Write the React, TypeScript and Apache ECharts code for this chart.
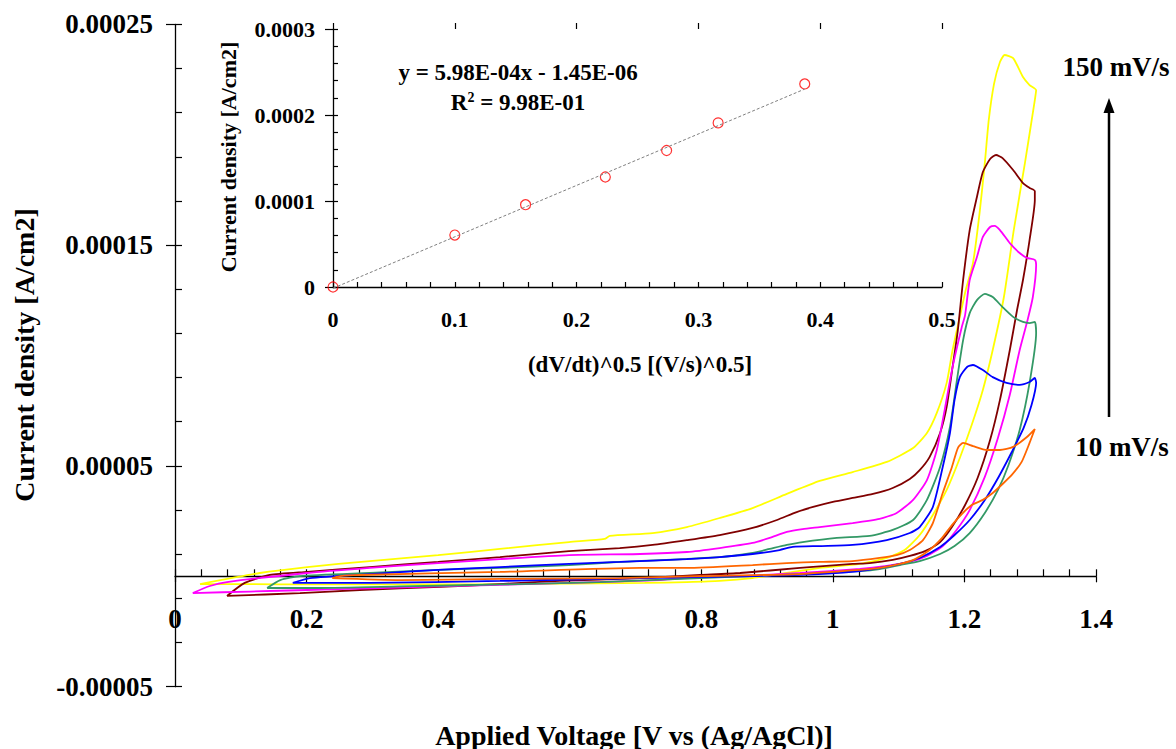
import React, { useEffect, useRef } from "react";
import * as echarts from "echarts";

const serif = "'Times New Roman', 'Liberation Serif', 'DejaVu Serif', serif";
const black = "#000000";

// Cyclic voltammograms: potential (V vs Ag/AgCl) and current density (µA/cm²),
// forward sweep to the 1.31 V vertex followed by the return sweep.
const potential150 = [
  0.038, 0.129, 0.201, 0.296, 0.4, 0.494, 0.599, 0.653, 0.661, 0.726, 0.778, 0.828, 0.878, 0.93, 0.98,
  1.03, 1.082, 1.122, 1.143, 1.158, 1.173, 1.182, 1.193, 1.202, 1.213, 1.223, 1.231, 1.237, 1.245, 1.254,
  1.261, 1.274, 1.289, 1.299, 1.309,
  1.307, 1.292, 1.275, 1.26, 1.243, 1.228, 1.211, 1.193, 1.173, 1.152, 1.132, 1.109, 1.082, 1.041, 0.98,
  0.93, 0.878, 0.828, 0.778, 0.714, 0.494, 0.266, 0.038,
];
const current150 = [
  -3.5, 1.5, 4.2, 6.9, 9.6, 12.4, 15.5, 16.9, 18.3, 19.6, 22.3, 26.4, 30.9, 37.3, 43.2,
  47.2, 51.8, 58.1, 64.9, 74.0, 87.6, 102.5, 117.5, 129.7, 141.9, 164.5, 187.2, 206.7, 223.0, 232.9,
  236.1, 234.7, 226.1, 222.5, 220.2,
  215.7, 187.2, 156.8, 126.5, 102.5, 84.4, 68.5, 53.6, 39.1, 27.8, 18.7, 11.9, 8.3, 5.6, 3.8,
  1.5, -0.8, -2.1, -2.6, -3.0, -3.5, -3.7, -3.5,
];

const potential100 = [
  0.079, 0.106, 0.144, 0.201, 0.296, 0.4, 0.494, 0.599, 0.676, 0.726, 0.778, 0.828, 0.878, 0.915, 0.945,
  0.97, 1.0, 1.03, 1.061, 1.091, 1.117, 1.132, 1.147, 1.163, 1.173, 1.182, 1.19, 1.198, 1.208, 1.219,
  1.228, 1.239, 1.248, 1.258, 1.274, 1.289, 1.299, 1.307,
  1.307, 1.299, 1.289, 1.28, 1.269, 1.254, 1.239, 1.22, 1.201, 1.181, 1.163, 1.14, 1.117, 1.091, 1.056,
  1.03, 0.95, 0.859, 0.798, 0.707, 0.585, 0.494, 0.403, 0.281, 0.19, 0.079,
];
const current100 = [
  -8.9, -3.0, 0.6, 2.0, 4.2, 6.5, 8.7, 11.4, 12.8, 14.2, 16.4, 18.7, 21.9, 25.5, 29.1,
  31.4, 33.7, 35.5, 37.3, 40.0, 44.1, 48.1, 54.0, 64.9, 76.7, 94.8, 111.5, 134.2, 156.8, 171.8,
  183.1, 189.0, 190.8, 189.4, 184.0, 178.1, 175.9, 174.5,
  170.4, 152.3, 134.2, 120.6, 102.5, 79.9, 61.7, 44.5, 32.3, 22.3, 15.5, 11.4, 9.2, 7.4, 6.0,
  5.6, 3.8, 1.5, 0.6, -0.8, -2.1, -3.5, -4.8, -6.2, -7.6, -8.9,
];

const potential75 = [
  0.027, 0.053, 0.079, 0.201, 0.296, 0.4, 0.494, 0.599, 0.707, 0.778, 0.828, 0.878, 0.904, 0.93, 0.954,
  0.98, 1.03, 1.071, 1.097, 1.122, 1.143, 1.158, 1.17, 1.182, 1.196, 1.201, 1.208, 1.219, 1.228, 1.239,
  1.246, 1.254, 1.269, 1.284, 1.295, 1.307,
  1.309, 1.304, 1.296, 1.284, 1.269, 1.251, 1.231, 1.208, 1.188, 1.167, 1.143, 1.117, 1.082, 1.041, 0.95,
  0.859, 0.798, 0.737, 0.599, 0.494, 0.4, 0.296, 0.201, 0.114, 0.027,
];
const current75 = [
  -7.6, -4.4, -2.6, 1.5, 3.8, 6.0, 7.8, 9.6, 10.1, 11.0, 12.8, 15.1, 17.4, 20.1, 21.4,
  22.3, 24.1, 26.0, 28.7, 34.6, 43.6, 57.2, 75.4, 94.8, 112.9, 118.3, 134.2, 144.6, 153.7, 158.2,
  158.7, 156.8, 150.9, 146.4, 144.2, 143.3,
  141.0, 126.5, 116.1, 102.5, 82.2, 62.7, 45.0, 30.0, 21.0, 13.7, 9.2, 6.5, 4.7, 3.3, 1.5,
  0.1, -0.3, -1.7, -3.0, -3.9, -4.6, -5.5, -6.2, -6.9, -7.6,
];

const potential50 = [
  0.14, 0.16, 0.19, 0.296, 0.4, 0.494, 0.599, 0.676, 0.828, 0.878, 0.904, 0.93, 0.954, 1.006, 1.056,
  1.091, 1.122, 1.143, 1.163, 1.178, 1.188, 1.198, 1.208, 1.219, 1.231, 1.243, 1.258, 1.274, 1.289, 1.299,
  1.307,
  1.309, 1.299, 1.284, 1.267, 1.251, 1.231, 1.208, 1.185, 1.163, 1.132, 1.102, 1.071, 1.041, 0.95, 0.798,
  0.646, 0.494, 0.342, 0.22, 0.14,
];
const current50 = [
  -5.3, -1.7, 0.1, 1.5, 2.9, 3.8, 5.1, 6.5, 8.7, 10.6, 12.4, 14.2, 15.5, 17.4, 18.3,
  21.0, 25.5, 34.6, 49.5, 67.6, 87.6, 107.0, 119.2, 125.1, 127.9, 126.5, 121.9, 117.5, 115.2, 114.7,
  115.2,
  110.2, 87.6, 66.3, 50.4, 39.1, 28.7, 19.6, 13.7, 10.1, 6.9, 5.1, 3.3, 2.4, 1.0, -0.8,
  -2.6, -3.7, -4.6, -5.3, -5.3,
];

const potential25 = [
  0.179, 0.205, 0.296, 0.4, 0.494, 0.599, 0.676, 0.778, 0.828, 0.878, 0.919, 0.939, 0.98, 1.03, 1.082,
  1.117, 1.132, 1.152, 1.167, 1.178, 1.185, 1.193, 1.204, 1.213, 1.228, 1.243, 1.264, 1.284, 1.299, 1.307,
  1.309, 1.302, 1.29, 1.272, 1.252, 1.231, 1.208, 1.185, 1.163, 1.132, 1.102, 1.071, 1.041, 0.95, 0.798,
  0.707, 0.494, 0.296, 0.179,
];
const current25 = [
  -3.0, -0.8, 1.0, 2.9, 4.2, 5.6, 6.5, 7.8, 8.7, 10.1, 11.9, 13.3, 13.7, 14.2, 16.4,
  19.6, 22.3, 31.4, 49.5, 64.9, 79.9, 90.2, 94.8, 95.7, 93.4, 90.2, 87.6, 86.7, 88.0, 89.8,
  87.6, 77.6, 67.2, 56.3, 45.0, 34.6, 25.5, 18.7, 13.3, 8.3, 5.6, 3.8, 2.4, 0.6, -0.3,
  -0.8, -2.1, -3.0, -3.0,
];

const potential10 = [
  0.239, 0.251, 0.281, 0.494, 0.707, 0.778, 0.878, 0.93, 0.98, 1.03, 1.071, 1.097, 1.117, 1.137, 1.152,
  1.167, 1.181, 1.19, 1.198, 1.213, 1.234, 1.254, 1.274, 1.295, 1.307,
  1.299, 1.287, 1.272, 1.258, 1.243, 1.228, 1.211, 1.196, 1.181, 1.166, 1.147, 1.125, 1.102, 1.071, 1.041,
  0.95, 0.798, 0.676, 0.494, 0.342, 0.239,
];
const current10 = [
  -0.8, 0.1, 0.6, 2.0, 3.8, 3.8, 5.1, 6.0, 6.5, 6.9, 8.3, 9.6, 11.9, 16.4, 24.1,
  37.7, 49.5, 58.1, 60.4, 59.0, 57.2, 57.2, 58.6, 63.1, 66.7,
  60.4, 51.8, 45.9, 41.8, 37.7, 34.6, 32.3, 28.2, 23.2, 17.4, 11.9, 7.8, 5.6, 3.8, 2.9,
  1.0, 0.1, -0.8, -1.2, -1.7, -0.8,
];

const MICRO = 1e-6; // µA/cm² -> A/cm²

// Inset: square root of the scan rate vs anodic peak current density
const sqrtScanRate = [0, 0.1, 0.1581, 0.2236, 0.2739, 0.3162, 0.3873];
const peakDensity = [0, 6.04e-5, 9.57e-5, 1.279e-4, 1.587e-4, 1.908e-4, 2.361e-4];
const fitSlope = 5.98e-4;
const fitIntercept = -1.45e-6;
const fitR2 = 0.998;

// Main axis ranges
const voltMin = 0;
const voltMax = 1.4;
const densMin = -0.00005;
const densMax = 0.00025;

const loops = [
  { name: "150 mV/s", v: potential150, j: current150, color: "#FFFF00" },
  { name: "100 mV/s", v: potential100, j: current100, color: "#800000" },
  { name: "75 mV/s", v: potential75, j: current75, color: "#FF00FF" },
  { name: "50 mV/s", v: potential50, j: current50, color: "#339966" },
  { name: "25 mV/s", v: potential25, j: current25, color: "#0000FF" },
  { name: "10 mV/s", v: potential10, j: current10, color: "#FF6600" },
];

function sci(n: number): string {
  const [m, e] = n.toExponential(2).split("e");
  const sign = e[0] === "-" ? "-" : "+";
  const digits = e.replace(/^[+-]/, "").padStart(2, "0");
  return `${m}E${sign}${digits}`;
}

const boldText = (size: number) => ({
  fontSize: size,
  fontWeight: "bold" as const,
  fontFamily: serif,
  fill: black,
  align: "center" as const,
  verticalAlign: "middle" as const,
});

function buildOption() {
  const mainGrid = { left: 175, top: 24.3, width: 921, height: 662.4 };
  // lift the voltage axis from the grid bottom up to zero current
  const zeroLift = -mainGrid.height * (0 - densMin) / (densMax - densMin);

  const tickLine = { color: black, width: 1.2 };
  const axisLineStyle = { color: black, width: 1.3 };
  const labelFont = (size: number) => ({
    color: black,
    fontSize: size,
    fontWeight: "bold" as const,
    fontFamily: serif,
  });
  const oneDecimal = (v: number) => String(+v.toFixed(1));

  return {
    animation: false,
    backgroundColor: "#ffffff",
    grid: [
      { ...mainGrid, outerBoundsMode: "none" },
      { left: 333, top: 29, width: 609, height: 258, outerBoundsMode: "none" },
    ],
    xAxis: [
      {
        gridIndex: 0,
        type: "value",
        position: "bottom",
        offset: zeroLift,
        min: voltMin,
        max: voltMax,
        interval: 0.2,
        axisLine: { show: true, onZero: false, lineStyle: axisLineStyle },
        axisTick: { show: true, inside: true, length: 7, lineStyle: tickLine },
        minorTick: { show: true, splitNumber: 5, length: 7, lineStyle: tickLine },
        splitLine: { show: false },
        axisLabel: { margin: 29, ...labelFont(27), formatter: oneDecimal },
      },
      {
        gridIndex: 0,
        type: "value",
        position: "bottom",
        offset: zeroLift,
        min: voltMin,
        max: voltMax,
        interval: 0.2,
        axisLine: { show: false, onZero: false },
        axisTick: { show: true, inside: false, length: 6, lineStyle: tickLine },
        splitLine: { show: false },
        axisLabel: { show: false },
      },
      {
        gridIndex: 1,
        type: "value",
        min: 0,
        max: 0.5,
        interval: 0.1,
        axisLine: { show: true, onZero: false, lineStyle: axisLineStyle },
        axisTick: { show: true, inside: true, length: 5, lineStyle: tickLine },
        minorTick: { show: true, splitNumber: 5, length: 5, lineStyle: tickLine },
        splitLine: { show: false },
        axisLabel: { margin: 21, ...labelFont(22), formatter: oneDecimal },
      },
      {
        gridIndex: 1,
        type: "value",
        min: 0,
        max: 0.5,
        interval: 0.1,
        axisLine: { show: false, onZero: false },
        axisTick: { show: true, inside: false, length: 6, lineStyle: tickLine },
        splitLine: { show: false },
        axisLabel: { show: false },
      },
    ],
    yAxis: [
      {
        gridIndex: 0,
        type: "value",
        position: "left",
        min: densMin,
        max: densMax,
        interval: 0.0001,
        axisLine: { show: true, onZero: false, lineStyle: axisLineStyle },
        axisTick: { show: true, inside: true, length: 7, lineStyle: tickLine },
        minorTick: { show: true, splitNumber: 5, length: 7, lineStyle: tickLine },
        splitLine: { show: false },
        axisLabel: { margin: 22, ...labelFont(27), formatter: (v: number) => v.toFixed(5) },
      },
      {
        gridIndex: 0,
        type: "value",
        position: "left",
        min: densMin,
        max: densMax,
        interval: 0.0001,
        axisLine: { show: false, onZero: false },
        axisTick: { show: true, inside: false, length: 9, lineStyle: tickLine },
        splitLine: { show: false },
        axisLabel: { show: false },
      },
      {
        gridIndex: 1,
        type: "value",
        position: "left",
        min: 0,
        max: 0.0003,
        interval: 0.0001,
        axisLine: { show: true, onZero: false, lineStyle: axisLineStyle },
        axisTick: { show: true, inside: true, length: 5, lineStyle: tickLine },
        minorTick: { show: true, splitNumber: 5, length: 5, lineStyle: tickLine },
        splitLine: { show: false },
        axisLabel: {
          margin: 18,
          ...labelFont(22),
          formatter: (v: number) => (v === 0 ? "0" : v.toFixed(4)),
        },
      },
      {
        gridIndex: 1,
        type: "value",
        position: "left",
        min: 0,
        max: 0.0003,
        interval: 0.0001,
        axisLine: { show: false, onZero: false },
        axisTick: { show: true, inside: false, length: 8, lineStyle: tickLine },
        splitLine: { show: false },
        axisLabel: { show: false },
      },
    ],
    series: [
      ...loops.map((loop) => ({
        name: loop.name,
        type: "line",
        xAxisIndex: 0,
        yAxisIndex: 0,
        data: loop.v.map((v, i) => [v, loop.j[i] * MICRO]),
        symbol: "none",
        showSymbol: false,
        smooth: 0.2,
        silent: true,
        lineStyle: { color: loop.color, width: 1.8 },
      })),
      {
        name: "fit",
        type: "line",
        xAxisIndex: 2,
        yAxisIndex: 2,
        data: [
          [0, fitIntercept],
          [sqrtScanRate[sqrtScanRate.length - 1], fitSlope * sqrtScanRate[sqrtScanRate.length - 1] + fitIntercept],
        ],
        symbol: "none",
        silent: true,
        clip: false,
        lineStyle: { color: "#808080", width: 1, type: [3, 2] },
      },
      {
        name: "peak",
        type: "scatter",
        xAxisIndex: 2,
        yAxisIndex: 2,
        data: sqrtScanRate.map((x, i) => [x, peakDensity[i]]),
        symbol: "circle",
        symbolSize: 10,
        clip: false,
        silent: true,
        itemStyle: { color: "rgba(255,255,255,0)", borderColor: "#FF0000", borderWidth: 1.2 },
      },
    ],
    graphic: [
      {
        type: "text",
        x: 24,
        y: 355,
        rotation: Math.PI / 2,
        style: { text: "Current density [A/cm2]", ...boldText(28) },
      },
      {
        type: "text",
        x: 634,
        y: 735,
        style: { text: "Applied Voltage [V vs (Ag/AgCl)]", ...boldText(28) },
      },
      {
        type: "text",
        x: 228,
        y: 157,
        rotation: Math.PI / 2,
        style: { text: "Current density [A/cm2]", ...boldText(22) },
      },
      {
        type: "text",
        x: 640,
        y: 364,
        style: { text: "(dV/dt)^0.5 [(V/s)^0.5]", ...boldText(23) },
      },
      {
        type: "text",
        x: 518,
        y: 72,
        style: { text: `y = ${sci(fitSlope)}x - ${sci(-fitIntercept)}`, ...boldText(23) },
      },
      {
        type: "text",
        x: 518,
        y: 102,
        style: {
          text: `{a|R}{b|2}{a| = ${sci(fitR2)}}`,
          ...boldText(23),
          rich: {
            a: { fontSize: 23, fontWeight: "bold", fontFamily: serif, fill: black },
            b: { fontSize: 14, fontWeight: "bold", fontFamily: serif, fill: black, verticalAlign: "top" },
          },
        },
      },
      { type: "text", x: 1116, y: 67, style: { text: "150 mV/s", ...boldText(27) } },
      { type: "text", x: 1122, y: 447, style: { text: "10 mV/s", ...boldText(27) } },
      {
        type: "line",
        shape: { x1: 1109, y1: 417, x2: 1109, y2: 108 },
        style: { stroke: black, lineWidth: 2.5 },
      },
      {
        type: "polygon",
        shape: { points: [[1109, 98], [1103.5, 113], [1114.5, 113]] },
        style: { fill: black },
      },
    ],
  };
}

export default function App() {
  const ref = useRef<HTMLDivElement>(null);
  useEffect(() => {
    if (!ref.current) return;
    const chart = echarts.init(ref.current, undefined, { renderer: "svg" });
    chart.setOption(buildOption() as any);
    return () => chart.dispose();
  }, []);
  return (
    <div
      ref={ref}
      style={{ position: "fixed", left: 0, top: 0, width: 1176, height: 749, background: "#ffffff" }}
    />
  );
}
